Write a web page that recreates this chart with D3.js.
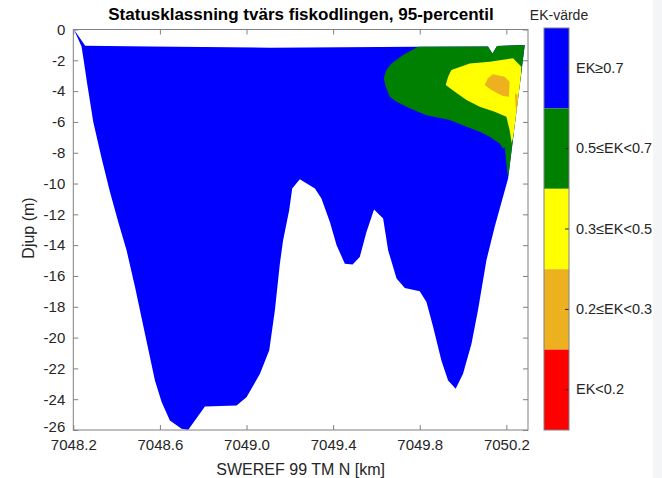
<!DOCTYPE html>
<html>
<head>
<meta charset="utf-8">
<script src="https://cdn.jsdelivr.net/npm/d3@7"></script>
<style>
  body { margin: 0; background: #fff; }
  svg { display: block; font-family: "Liberation Sans", Arial, sans-serif; }
</style>
</head>
<body>
<script>
// section outline of the water body [km, depth]
var outline = [
  [7048.203, 0], [7048.255, -1.05], [7048.554, -1.10], [7049.108, -1.18], [7049.782, -1.12],
  [7050.115, -1.10], [7050.136, -1.55], [7050.157, -1.07], [7050.285, -1.01], [7050.208, -9.67],
  [7050.146, -12.82], [7050.108, -14.98], [7050.069, -18.23], [7050.039, -20.40], [7050.000, -22.35],
  [7049.966, -23.32], [7049.931, -22.78], [7049.900, -21.48], [7049.862, -19.32], [7049.831, -17.69],
  [7049.800, -17.00], [7049.731, -16.78], [7049.693, -16.17], [7049.654, -14.33], [7049.631, -12.27],
  [7049.589, -11.69], [7049.554, -13.14], [7049.523, -14.77], [7049.490, -15.26], [7049.454, -15.20],
  [7049.416, -14.01], [7049.385, -12.49], [7049.346, -10.97], [7049.316, -10.32], [7049.246, -9.72],
  [7049.211, -10.32], [7049.197, -11.73], [7049.169, -13.68], [7049.154, -15.20], [7049.131, -18.23],
  [7049.105, -20.83], [7049.062, -22.35], [7049.000, -23.87], [7048.954, -24.41], [7048.808, -24.47],
  [7048.731, -25.99], [7048.700, -25.92], [7048.646, -25.38], [7048.608, -24.19], [7048.577, -22.78],
  [7048.531, -19.75], [7048.485, -16.72], [7048.446, -14.33], [7048.408, -12.51], [7048.369, -10.54],
  [7048.331, -8.37], [7048.292, -5.99], [7048.265, -3.61], [7048.249, -2.09], [7048.238, -1.10]
];

// contour regions (clipped by the outline)
var greenArea = [
  [7049.800, -0.68], [7049.792, -1.12], [7049.723, -1.66], [7049.670, -2.20], [7049.646, -2.63],
  [7049.634, -3.17], [7049.643, -3.72], [7049.662, -4.37], [7049.693, -4.69], [7049.754, -5.12],
  [7049.831, -5.56], [7049.939, -5.88], [7050.016, -6.32], [7050.077, -6.64], [7050.123, -6.97],
  [7050.169, -7.40], [7050.185, -7.72], [7050.192, -7.62], [7050.206, -9.46], [7050.354, -9.46],
  [7050.354, -0.68]
];
var yellowArea = [
  [7049.946, -2.63], [7050.031, -2.20], [7050.123, -2.09], [7050.177, -1.98], [7050.231, -1.87],
  [7050.269, -2.42], [7050.262, -4.58], [7050.243, -6.27], [7050.225, -7.38], [7050.215, -6.53],
  [7050.200, -5.67], [7050.146, -5.34], [7050.077, -5.02], [7050.016, -4.58], [7049.962, -4.04],
  [7049.920, -3.61], [7049.931, -3.07]
];
var orangeArea = [
  [7050.100, -3.61], [7050.115, -3.17], [7050.138, -2.91], [7050.192, -3.07], [7050.215, -3.39],
  [7050.212, -4.37], [7050.185, -4.32], [7050.161, -4.15], [7050.131, -3.93]
];
var orangeSliver = [
  [7050.240, -4.13], [7050.252, -4.26], [7050.252, -5.23], [7050.243, -5.10]
];

var xTicks = [7048.2, 7048.6, 7049.0, 7049.4, 7049.8, 7050.2];
var yTicks = [0, -2, -4, -6, -8, -10, -12, -14, -16, -18, -20, -22, -24, -26];

// colour classes, top to bottom of the colorbar
var classLabels = ["EK\u22650.7", "0.5\u2264EK<0.7", "0.3\u2264EK<0.5", "0.2\u2264EK<0.3", "EK<0.2"];
var classColors = ["#0000ff", "#008000", "#ffff00", "#edb120", "#ff0000"];

(function(){

var width = 662, height = 478;
var svg = d3.select("body").append("svg")
  .attr("width", width)
  .attr("height", height);

// light strip at the right edge
svg.append("rect").attr("x", 653).attr("y", 0).attr("width", 9).attr("height", height).attr("fill", "#f4f5f7");

var pLeft = 73.3, pRight = 528, pTop = 29.5, pBottom = 430;

var x = d3.scaleLinear().domain([7048.2, 7050.3]).range([pLeft, pRight]);
var y = d3.scaleLinear().domain([-26, 0]).range([pBottom, pTop]);

var line = d3.line()
  .x(function(d){ return x(d[0]); })
  .y(function(d){ return y(d[1]); })
  .curve(d3.curveLinearClosed);

svg.append("clipPath").attr("id", "sect")
  .append("path").attr("d", line(outline));

var g = svg.append("g");
g.append("path").attr("d", line(outline)).attr("fill", classColors[0]);

var inner = g.append("g").attr("clip-path", "url(#sect)");
inner.append("path").attr("d", line(greenArea)).attr("fill", classColors[1]);
inner.append("path").attr("d", line(yellowArea)).attr("fill", classColors[2]);
inner.append("path").attr("d", line(orangeArea)).attr("fill", classColors[3]);
inner.append("path").attr("d", line(orangeSliver)).attr("fill", classColors[3]);

// axes, box on with inward ticks
var axisColor = "#808080";
function styleAxis(sel){
  sel.select(".domain").remove();
  sel.selectAll(".tick line").attr("stroke", axisColor);
  sel.selectAll(".tick text").attr("fill", "#262626").attr("font-size", "15px")
    .attr("font-family", "Liberation Sans, Arial, sans-serif");
}

var xAxis = svg.append("g").attr("transform", "translate(0," + pBottom + ")")
  .call(d3.axisBottom(x).tickValues(xTicks).tickFormat(d3.format(".1f")).tickSizeInner(-5).tickPadding(9));
styleAxis(xAxis);
var xAxisTop = svg.append("g").attr("transform", "translate(0," + pTop + ")")
  .call(d3.axisTop(x).tickValues(xTicks).tickFormat("").tickSizeInner(-5));
styleAxis(xAxisTop);

var yAxis = svg.append("g").attr("transform", "translate(" + pLeft + ",0)")
  .call(d3.axisLeft(y).tickValues(yTicks).tickFormat(d3.format("d")).tickSizeInner(-5).tickPadding(8));
styleAxis(yAxis);
yAxis.selectAll(".tick text").text(function(d){ return d < 0 ? "-" + Math.abs(d) : d; });
// lowest label sits a bit higher, as in the reference
yAxis.selectAll(".tick text").filter(function(d){ return d === -26; }).attr("dy", "0.1em");
var yAxisRight = svg.append("g").attr("transform", "translate(" + pRight + ",0)")
  .call(d3.axisRight(y).tickValues(yTicks).tickFormat("").tickSizeInner(-5));
styleAxis(yAxisRight);

svg.append("rect")
  .attr("x", pLeft).attr("y", pTop)
  .attr("width", pRight - pLeft).attr("height", pBottom - pTop)
  .attr("fill", "none").attr("stroke", axisColor).attr("stroke-width", 1);

// labels
svg.append("text").attr("x", 301).attr("y", 20).attr("text-anchor", "middle")
  .attr("font-size", "17px").attr("font-weight", "bold").attr("fill", "#000")
  .text("Statusklassning tvärs fiskodlingen, 95-percentil");
svg.append("text").attr("x", (pLeft + pRight) / 2).attr("y", 475).attr("text-anchor", "middle")
  .attr("font-size", "16px").attr("fill", "#262626")
  .text("SWEREF 99 TM N [km]");
svg.append("text").attr("transform", "translate(34,228) rotate(-90)").attr("text-anchor", "middle")
  .attr("font-size", "16px").attr("fill", "#262626")
  .text("Djup (m)");

// colorbar
var cbX = 544, cbW = 25;
var cb = d3.scaleBand().domain(classLabels).range([28, 430]);
var cbg = svg.append("g");
cbg.selectAll("rect.band").data(classLabels).enter().append("rect")
  .attr("class", "band")
  .attr("x", cbX).attr("y", function(d){ return cb(d); })
  .attr("width", cbW).attr("height", cb.bandwidth())
  .attr("fill", function(d, i){ return classColors[i]; });
var cbAxis = cbg.append("g").attr("transform", "translate(" + (cbX + cbW) + ",0)")
  .call(d3.axisRight(cb).tickSizeInner(-4).tickSizeOuter(0).tickPadding(7));
cbAxis.select(".domain").remove();
cbAxis.selectAll(".tick line").attr("stroke", "#262626");
cbAxis.selectAll(".tick text").attr("fill", "#262626").attr("font-size", "14.5px")
  .attr("font-family", "Liberation Sans, Arial, sans-serif");
cbg.append("rect").attr("x", cbX).attr("y", 28).attr("width", cbW).attr("height", 402)
  .attr("fill", "none").attr("stroke", axisColor);
svg.append("text").attr("x", 559).attr("y", 20).attr("text-anchor", "middle")
  .attr("font-size", "14px").attr("fill", "#262626").text("EK-värde");

})();
</script>
</body>
</html>
